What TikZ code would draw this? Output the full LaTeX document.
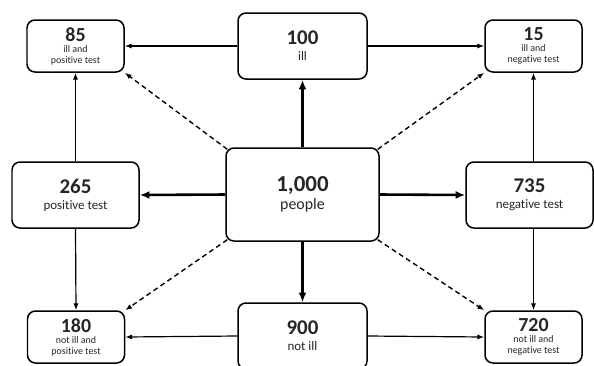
\documentclass[tikz,border=0pt]{standalone}
\usepackage{fontspec}
\setmainfont{Carlito}[RawFeature=-liga]
\usetikzlibrary{arrows.meta}

\begin{document}
\begin{tikzpicture}[x=1bp,y=-1bp,line width=1.2pt,>={Latex[length=2.4mm,width=1.8mm]},
    box/.style={draw,line width=1.5pt,rounded corners=8pt,align=center,text=black!85,inner sep=0pt},
    smallbox/.style={box,minimum width=97bp,minimum height=52bp,font=\fontsize{10}{11}\selectfont},
    midbox/.style={box,minimum width=128bp,minimum height=66bp,font=\fontsize{13}{15}\selectfont},
    bigbox/.style={box,minimum width=153bp,minimum height=93bp,font=\fontsize{16}{18}\selectfont},
    splitarrow/.style={->,line width=1.2pt,>={Latex[length=2.4mm,width=1.8mm]}},
    mainarrow/.style={->,line width=2.6pt,>={Latex[length=3.4mm,width=2.8mm]}},
    directarrow/.style={->,line width=1.4pt,dash pattern=on 5pt off 3.5pt}]
  \useasboundingbox (0,0) rectangle (594,365);
  % ===== total and first split =====
  \node[bigbox] (people) at (302.5,194.5) {{\bfseries\fontsize{23}{24}\selectfont 1,000}\\people};
  \node[midbox,minimum width=129bp] (ill) at (302.5,46) {{\bfseries\fontsize{21}{22}\selectfont 100}\\[1pt]ill};
  \node[midbox,minimum width=129bp] (notill) at (302.5,336) {{\bfseries\fontsize{21}{22}\selectfont 900}\\[1pt]not ill};
  \node[midbox,minimum width=127bp] (pos) at (75.5,195) {{\bfseries\fontsize{21}{22}\selectfont 265}\\[1pt]positive test};
  \node[midbox,minimum width=127bp] (neg) at (529.5,195) {{\bfseries\fontsize{21}{22}\selectfont 735}\\[1pt]negative test};
  % ===== four outcomes =====
  \node[smallbox] (illpos) at (75.5,46) {{\bfseries\fontsize{20}{21}\selectfont 85}\\ill and\\positive test};
  \node[smallbox] (illneg) at (533.5,46) {{\bfseries\fontsize{20}{21}\selectfont 15}\\ill and\\negative test};
  \node[smallbox] (notpos) at (76,337) {{\bfseries\fontsize{20}{21}\selectfont 180}\\not ill and\\positive test};
  \node[smallbox] (notneg) at (533.5,337) {{\bfseries\fontsize{20}{21}\selectfont 720}\\not ill and\\negative test};
  % splits of the total
  \draw[mainarrow] (people.north) -- (ill.south);
  \draw[mainarrow] (people.south) -- (notill.north);
  \draw[mainarrow] (people.west) -- (pos.east);
  \draw[mainarrow] (people.east) -- (neg.west);
  % by illness
  \draw[splitarrow] (ill.west) -- (illpos.east);
  \draw[splitarrow] (ill.east) -- (illneg.west);
  \draw[splitarrow] (notill.west) -- (notpos.east);
  \draw[splitarrow] (notill.east) -- (notneg.west);
  % by test
  \draw[splitarrow] (pos.north) -- (illpos.south);
  \draw[splitarrow] (pos.south) -- (notpos.north);
  \draw[splitarrow] (neg.north -| illneg.south) -- (illneg.south);
  \draw[splitarrow] (neg.south -| notneg.north) -- (notneg.north);
  % straight from the total
  \draw[directarrow] ([shift={(2bp,-2bp)}]people.north west) -- (illpos.south east);
  \draw[directarrow] ([shift={(-2bp,-2bp)}]people.north east) -- (illneg.south west);
  \draw[directarrow] ([shift={(2bp,2bp)}]people.south west) -- (notpos.north east);
  \draw[directarrow] ([shift={(-2bp,2bp)}]people.south east) -- (notneg.north west);
\end{tikzpicture}
\end{document}
